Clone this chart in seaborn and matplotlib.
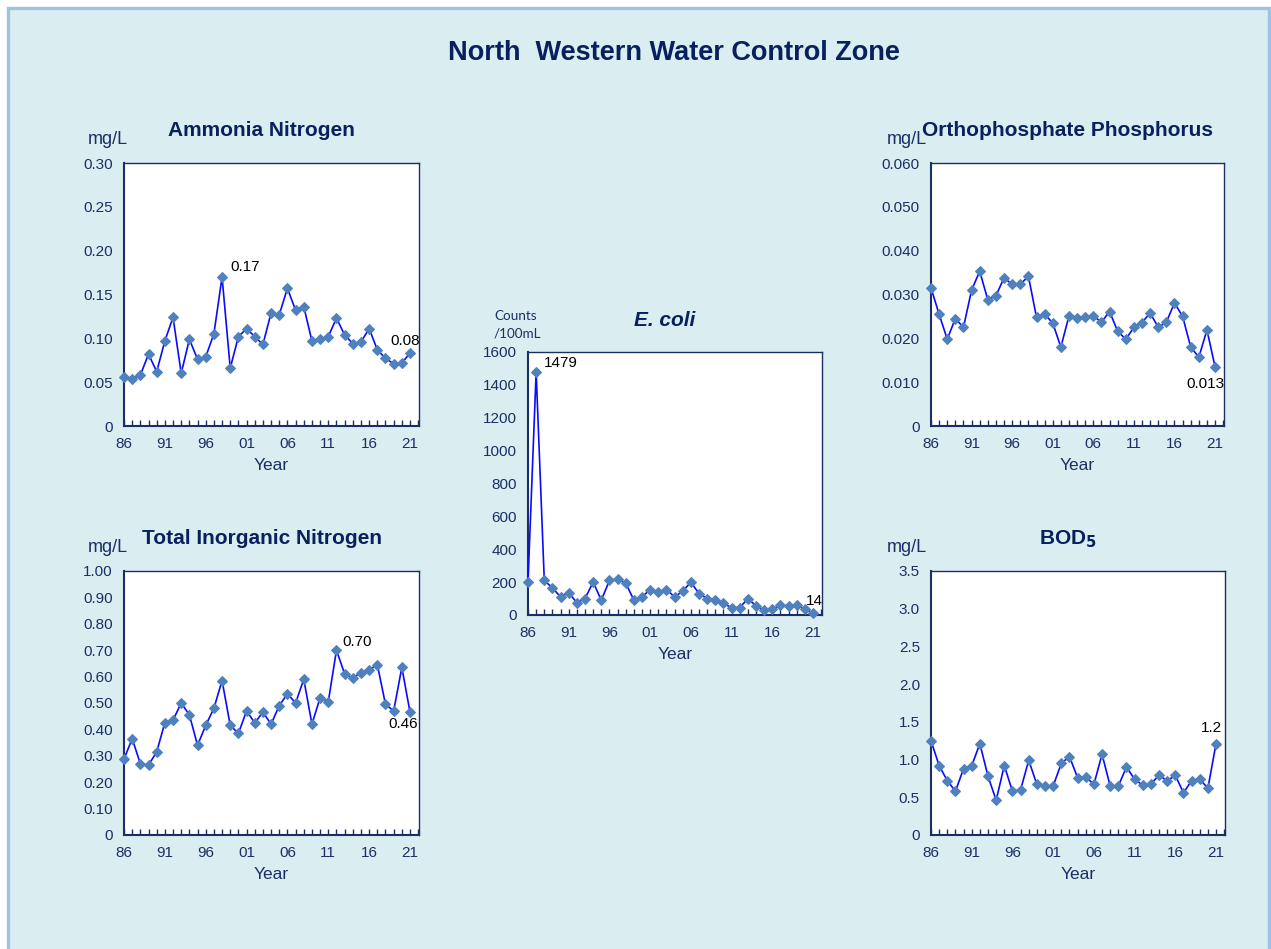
import numpy as np
import pandas as pd
import matplotlib
matplotlib.use('Agg')
import matplotlib.pyplot as plt
from matplotlib.patches import Rectangle
from matplotlib.ticker import FixedLocator, MultipleLocator, FuncFormatter
import seaborn as sns

# Data (annual means, 1986-2021)
years = list(range(1986, 2022))

ammonia = [0.056, 0.054, 0.058, 0.082, 0.062, 0.097, 0.124, 0.060, 0.099, 0.076,
           0.079, 0.105, 0.170, 0.066, 0.102, 0.111, 0.102, 0.093, 0.129, 0.127,
           0.157, 0.132, 0.136, 0.097, 0.099, 0.102, 0.123, 0.104, 0.094, 0.096,
           0.111, 0.087, 0.077, 0.071, 0.072, 0.083]

ortho_p = [0.0315, 0.0255, 0.0198, 0.0245, 0.0225, 0.0310, 0.0353, 0.0288, 0.0297, 0.0338,
           0.0323, 0.0323, 0.0342, 0.0248, 0.0255, 0.0235, 0.0180, 0.0251, 0.0246, 0.0248,
           0.0251, 0.0237, 0.0261, 0.0216, 0.0198, 0.0225, 0.0236, 0.0258, 0.0225, 0.0237,
           0.0281, 0.0250, 0.0180, 0.0157, 0.0219, 0.0135]

tin = [0.287, 0.365, 0.270, 0.265, 0.315, 0.425, 0.435, 0.500, 0.455, 0.340,
       0.415, 0.480, 0.585, 0.415, 0.385, 0.470, 0.425, 0.465, 0.420, 0.490,
       0.535, 0.500, 0.590, 0.420, 0.520, 0.505, 0.700, 0.610, 0.595, 0.615,
       0.625, 0.645, 0.495, 0.470, 0.635, 0.465]

bod5 = [1.25, 0.92, 0.72, 0.58, 0.88, 0.92, 1.21, 0.78, 0.46, 0.92,
        0.58, 0.60, 0.99, 0.67, 0.65, 0.65, 0.95, 1.04, 0.76, 0.77,
        0.67, 1.07, 0.65, 0.65, 0.90, 0.74, 0.66, 0.68, 0.79, 0.72,
        0.79, 0.56, 0.72, 0.74, 0.62, 1.21]

ecoli = [200, 1479, 210, 165, 110, 135, 75, 100, 200, 90,
         210, 220, 195, 90, 110, 155, 140, 155, 110, 145,
         200, 130, 100, 90, 70, 45, 45, 100, 55, 30,
         35, 60, 55, 60, 35, 14]

sns.set_style('white')
plt.rcParams['font.family'] = ['Liberation Sans', 'DejaVu Sans']

W, H = 1271, 949
fig = plt.figure(figsize=(W / 100, H / 100), dpi=100, facecolor='white')

# light blue panel with border
fig.patches.append(Rectangle((8 / W, -0.05), (1269 - 8) / W, 1.05 - 8 / H,
                             transform=fig.transFigure, facecolor='#daedf0',
                             edgecolor='#9dc3e3', linewidth=2.4, zorder=-10))

NAVY = '#1b2f66'
TITLE = '#08205e'
LINE = '#0a0aff'
MARK = '#4f81bd'


def box(l, t, r, b):
    return [l / W, 1 - b / H, (r - l) / W, (b - t) / H]


def panel(rect, values, ymax, ystep, yfmt, title, unit, unit_pos, notes,
          title_style='normal'):
    ax = fig.add_axes(box(*rect))
    ax.set_facecolor('white')
    df = pd.DataFrame({'year': years, 'value': values})
    sns.lineplot(data=df, x='year', y='value', ax=ax, color=LINE, linewidth=1.2,
                 marker='D', markersize=5, markerfacecolor=MARK,
                 markeredgecolor=MARK, zorder=3, clip_on=False)
    ax.set_xlim(1986, 2022.1)
    ax.set_ylim(0, ymax)
    ax.xaxis.set_major_locator(FixedLocator(list(range(1986, 2022, 5))))
    ax.xaxis.set_minor_locator(MultipleLocator(1))
    ax.xaxis.set_major_formatter(FuncFormatter(lambda v, p: '%02d' % (int(round(v)) % 100)))
    ticks = np.arange(0, ymax + ystep / 2, ystep)
    ax.set_yticks(ticks)
    ax.set_yticklabels(['0'] + [yfmt % t for t in ticks[1:]])
    ax.tick_params(axis='x', which='both', direction='in', length=4, width=1,
                   color=NAVY, labelsize=11, labelcolor=NAVY, pad=8, bottom=True)
    ax.tick_params(axis='y', length=0, labelsize=11, labelcolor=NAVY, pad=8)
    for s in ax.spines.values():
        s.set_color(NAVY)
        s.set_linewidth(1.0)
    ax.spines['left'].set_linewidth(1.5)
    ax.spines['bottom'].set_linewidth(1.5)
    ax.set_xlabel('Year', fontsize=12.5, color=NAVY, labelpad=5)
    ax.set_ylabel('')
    cx = (rect[0] + rect[2]) / 2 / W
    fig.text(cx - 10 / W, 1 - (rect[1] - 32) / H, title, ha='center', va='center',
             fontsize=15, fontweight='bold', color=TITLE, style=title_style)
    fig.text(unit_pos[0] / W, 1 - unit_pos[1] / H, unit[0], ha='left', va='center',
             fontsize=unit[1], color=NAVY, family=unit[2], linespacing=1.5)
    for yr, txt, dx, dy, ha in notes:
        ax.annotate(txt, (yr, values[years.index(yr)]), xytext=(dx, dy),
                    textcoords='offset pixels', ha=ha, va='center',
                    fontsize=11, color='black', annotation_clip=False)
    return ax


fig.text(674 / W, 1 - 53 / H, 'North  Western Water Control Zone', ha='center',
         va='center', fontsize=19.5, fontweight='bold', color=TITLE)

panel((124, 163, 419, 426), ammonia, 0.30, 0.05, '%.2f', 'Ammonia Nitrogen',
      ('mg/L', 13, ['Liberation Sans']), (88, 140),
      [(1998, '0.17', 8, 10, 'left'), (2021, '0.08', -5, 12, 'center')])

panel((931, 163, 1224, 426), ortho_p, 0.060, 0.010, '%.3f', 'Orthophosphate Phosphorus',
      ('mg/L', 13, ['Liberation Sans']), (887, 140),
      [(2021, '0.013', -10, -17, 'center')])

panel((124, 571, 419, 835), tin, 1.00, 0.10, '%.2f', 'Total Inorganic Nitrogen',
      ('mg/L', 13, ['Liberation Sans']), (88, 547),
      [(2012, '0.70', 6, 8, 'left'), (2021, '0.46', -7, -12, 'center')])

panel((931, 571, 1225, 835), bod5, 3.5, 0.5, '%.1f', 'BOD$_\\mathbf{5}$',
      ('mg/L', 13, ['Liberation Sans']), (887, 548),
      [(2021, '1.2', -5, 16, 'center')])

panel((528, 352, 822, 615), ecoli, 1600, 200, '%d', 'E. coli',
      ('Counts\n/100mL', 9.7, ['Lato', 'DejaVu Sans']), (494, 325),
      [(1987, '1479', 8, 9, 'left'), (2021, '14', 1, 12, 'center')],
      title_style='italic')

fig.savefig('out.png', dpi=100, facecolor='white')
